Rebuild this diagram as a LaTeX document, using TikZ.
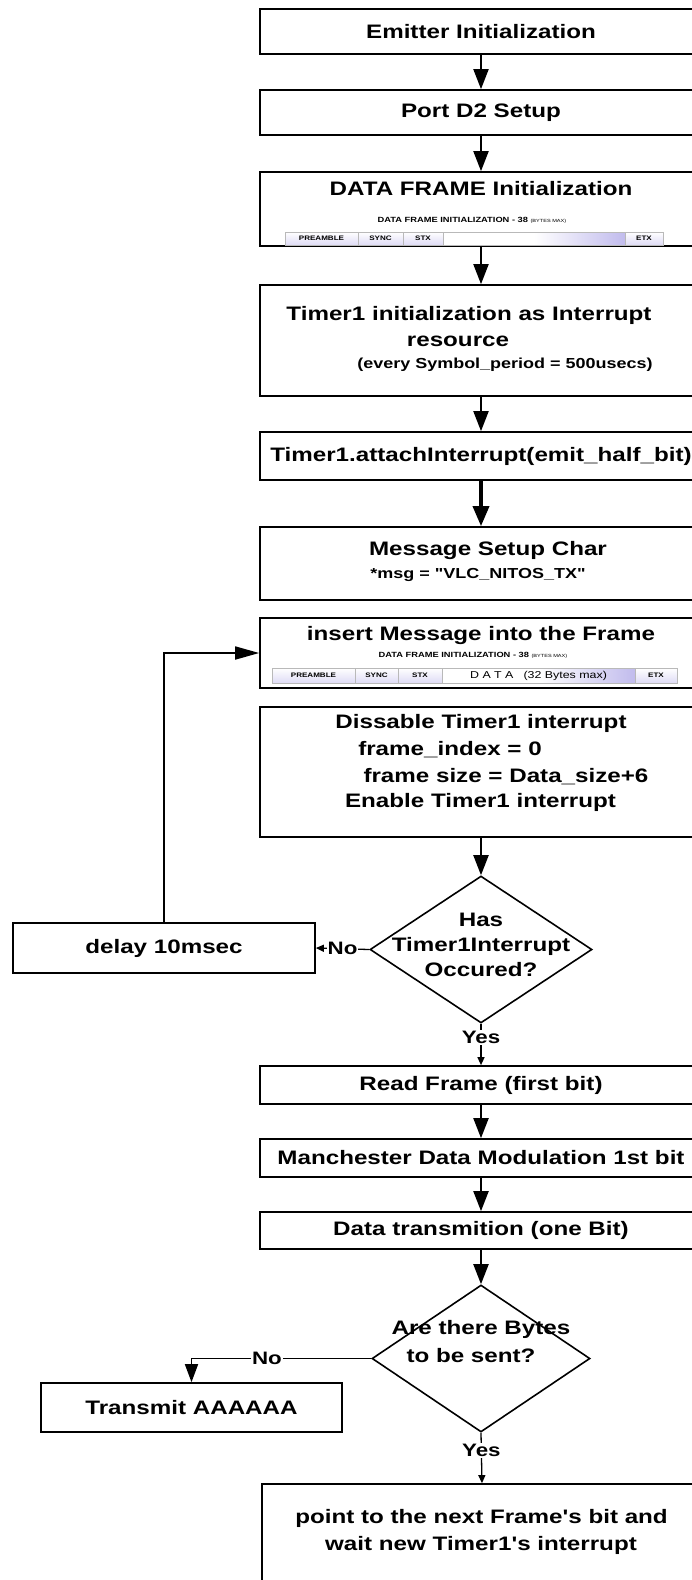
\documentclass[tikz,border=0pt]{standalone}
\usepackage{fontspec}
\setmainfont{Liberation Sans}[FakeStretch=1.24, Ligatures=TeXOff]
\usetikzlibrary{arrows.meta,shapes.geometric}
\definecolor{lav}{RGB}{190,184,236}
\definecolor{segedge}{RGB}{80,80,125}
\tikzset{
  box/.style={draw=black, line width=1.7pt, fill=white, inner sep=0pt, minimum width=442pt},
  big/.style={font=\fontsize{19.5}{27}\selectfont\bfseries},
  mid/.style={font=\fontsize{14.5}{18}\selectfont\bfseries},
  txt/.style={inner sep=0pt},
  flow/.style={line width=2pt, -{Triangle[length=20pt,width=15pt]}},
  thickflow/.style={line width=3.5pt, -{Triangle[length=20pt,width=16pt]}},
  loopflow/.style={line width=1.8pt, -{Triangle[length=24pt,width=13pt]}},
  noflow/.style={line width=1.6pt, -{Triangle[length=18pt,width=13pt]}},
  smallflow/.style={line width=1.3pt, -{Triangle[length=8pt,width=7pt]}},
  lbl/.style={fill=white, inner sep=1pt, font=\fontsize{18}{22}\selectfont\bfseries},
  dia/.style={diamond, draw=black, line width=1.6pt, fill=white, inner sep=0pt},
  seg/.style={draw=gray!55, line width=0.5pt, inner sep=0pt, top color=white, bottom color=lav!50,
    font=\fontsize{6.5}{7}\selectfont\bfseries,
    path picture={\draw[segedge, line width=1.5pt] (path picture bounding box.south west) -- (path picture bounding box.north west);}},
  dataseg/.style={seg, shading=axis, left color=white, right color=lav!95, middle color=white},
  stripcap/.style={inner sep=0pt, font=\fontsize{7.5}{8}\selectfont\bfseries},
}
\begin{document}
\begin{tikzpicture}[x=1pt,y=-1pt]
\path[use as bounding box] (0,0) rectangle (692,1580);
\clip (0,0) rectangle (692,1580);
\fill[white] (0,0) rectangle (692,1580);

% main column
\node[box, big, minimum height=45pt] (emit) at (481,31.5) {Emitter Initialization};
\node[box, big, minimum height=45pt] (port) at (481,112.5) {Port D2 Setup};

\node[box, minimum height=74pt] (dframe) at (481,209) {};
\node[txt, big] (dframet) at (481,189) {DATA FRAME Initialization};
\node[stripcap] (dframec) at (472,220) {DATA FRAME INITIALIZATION - 38 {\fontsize{4.5}{5}\selectfont\mdseries (BYTES MAX)}};
\node[seg, minimum width=73pt, minimum height=13pt] (s1a) at (321.5,238.5) {PREAMBLE};
\node[seg, minimum width=45pt, minimum height=13pt] (s1b) at (380.5,238.5) {SYNC};
\node[seg, minimum width=40pt, minimum height=13pt] (s1c) at (423,238.5) {STX};
\node[dataseg, minimum width=182pt, minimum height=13pt] (s1d) at (534,238.5) {};
\node[seg, minimum width=38pt, minimum height=13pt] (s1e) at (644,238.5) {ETX};

\node[box, minimum height=111pt] (tinit) at (481,340.5) {};
\node[txt, big] (tinit1) at (469,315) {Timer1 initialization as Interrupt};
\node[txt, big] (tinit2) at (458,341) {resource};
\node[txt, mid] (tinit3) at (505,365) {(every Symbol\_period = 500usecs)};

\node[box, big, minimum height=48pt] (attach) at (481,456) {Timer1.attachInterrupt(emit\_half\_bit)};

\node[box, minimum height=73pt] (msg) at (481,563.5) {};
\node[txt, big] (msg1) at (488,550) {Message Setup Char};
\node[txt, mid] (msg2) at (478,575) {*msg = "VLC\_NITOS\_TX"};

\node[box, minimum height=70pt] (insert) at (481,653) {};
\node[txt, big] (insertt) at (481,635) {insert Message into the Frame};
\node[stripcap] (insertc) at (473,655) {DATA FRAME INITIALIZATION - 38 {\fontsize{4.5}{5}\selectfont\mdseries (BYTES MAX)}};
\node[seg, minimum width=83pt, minimum height=15pt] (s2a) at (313.5,675.5) {PREAMBLE};
\node[seg, minimum width=43pt, minimum height=15pt] (s2b) at (376.5,675.5) {SYNC};
\node[seg, minimum width=44pt, minimum height=15pt] (s2c) at (420,675.5) {STX};
\node[dataseg, minimum width=193pt, minimum height=15pt, font=\fontsize{10}{11}\selectfont] (s2d) at (538.5,675.5) {D A T A\quad (32 Bytes max)};
\node[seg, minimum width=42pt, minimum height=15pt] (s2e) at (656,675.5) {ETX};

\node[box, minimum height=130pt] (dis) at (481,772) {};
\node[txt, big] (dis1) at (481,723) {Dissable Timer1 interrupt};
\node[txt, big] (dis2) at (450,750) {frame\_index = 0};
\node[txt, big] (dis3) at (506,777) {frame size = Data\_size+6};
\node[txt, big] (dis4) at (480.5,802) {Enable Timer1 interrupt};

\node[dia, minimum width=222pt, minimum height=147pt] (d1) at (481,949.5) {};
\node[txt, big] (d1a) at (481,920) {Has};
\node[txt, big] (d1b) at (481,946) {Timer1Interrupt};
\node[txt, big] (d1c) at (481,970) {Occured?};

\node[box, big, minimum width=302pt, minimum height=50pt] (delay) at (164,948) {delay 10msec};

\node[box, big, minimum height=38pt] (read) at (481,1085) {Read Frame (first bit)};
\node[box, big, minimum height=38pt] (manch) at (481,1158) {Manchester Data Modulation 1st bit};
\node[box, big, minimum height=37pt] (dtx) at (481,1230.5) {Data transmition (one Bit)};

\node[dia, minimum width=218pt, minimum height=147pt] (d2) at (481,1358.5) {};
\node[txt, big] (d2a) at (481,1329) {Are there Bytes};
\node[txt, big] (d2b) at (471,1356) {to be sent?};

\node[box, big, minimum width=301pt, minimum height=49pt] (tr) at (191.5,1407.5) {Transmit AAAAAA};

\node[box, minimum width=440pt, minimum height=112pt] (last) at (482,1540) {};
\node[txt, big] (last1) at (481.5,1518) {point to the next Frame's bit and};
\node[txt, big] (last2) at (481,1545) {wait new Timer1's interrupt};

% connectors
\draw[flow] (emit.south) -- (port.north);
\draw[flow] (port.south) -- (dframe.north);
\draw[flow] (dframe.south) -- (tinit.north);
\draw[flow] (tinit.south) -- (attach.north);
\draw[thickflow] (attach.south) -- (msg.north);
\draw[flow] (dis.south) -- (d1.north);
\draw[smallflow] (d1.west) -- node[lbl]{No} (delay.east);
\draw[loopflow] (delay.north) |- (insert.west);
\draw[smallflow] (d1.south) -- node[lbl, pos=0.33]{Yes} (read.north);
\draw[flow] (read.south) -- (manch.north);
\draw[flow] (manch.south) -- (dtx.north);
\draw[flow] (dtx.south) -- (d2.north);
\draw[noflow] (d2.west) -| node[lbl, pos=0.29]{No} (tr.north);
\draw[smallflow] (d2.south) -- node[lbl, pos=0.35]{Yes} (last.north);
\end{tikzpicture}
\end{document}
